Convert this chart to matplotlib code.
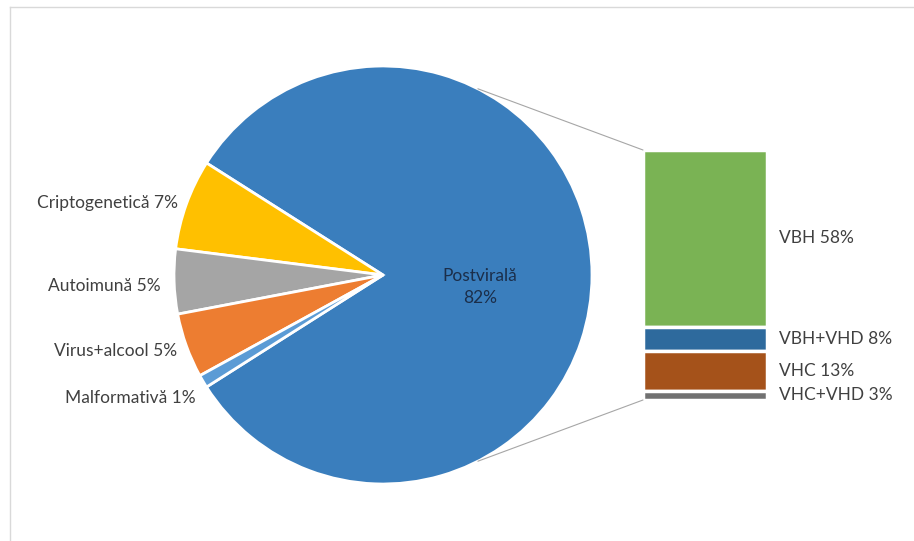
import numpy as np
import matplotlib
matplotlib.use('Agg')
import matplotlib.pyplot as plt
from matplotlib.patches import ConnectionPatch
from matplotlib.lines import Line2D

plt.rcParams['font.family'] = ['Lato', 'DejaVu Sans']

# pie data (Postviral first, then the small slices going counter-clockwise)
pie_labels = ['Postvirală', 'Criptogenetică', 'Autoimună', 'Virus+alcool', 'Malformativă']
pie_values = [82, 7, 5, 5, 1]
pie_colors = ['#3A7EBD', '#FFC000', '#A5A5A5', '#ED7D31', '#5B9BD5']

# breakdown of Postvirală (top of stack first)
bar_labels = ['VBH', 'VBH+VHD', 'VHC', 'VHC+VHD']
bar_values = [58, 8, 13, 3]
bar_colors = ['#7AB354', '#2E6A9D', '#A5521A', '#717171']

W, H = 914, 541
fs = 12.5
fig = plt.figure(figsize=(W / 100, H / 100), dpi=100)
ax = fig.add_axes([0, 0, 1, 1])

rest = sum(pie_values[1:])
start = 180 + rest / sum(pie_values) * 360 / 2
center = (383, H - 275)
radius = 209

wedges, _ = ax.pie(pie_values, colors=pie_colors, startangle=start,
                   counterclock=True, center=center, radius=radius,
                   wedgeprops=dict(edgecolor='white', linewidth=2))

# outside labels for the small slices (Excel-like placement, nudged a bit)
dx = [-2, -7, -3, -2]
dy = [-1, -4, -3, -13]
for w, lab, v, ox, oy in zip(wedges[1:], pie_labels[1:], pie_values[1:], dx, dy):
    mid = np.deg2rad((w.theta1 + w.theta2) / 2)
    x = center[0] + radius * 1.03 * np.cos(mid) + ox
    y = center[1] + radius * 1.03 * np.sin(mid) + oy
    ax.text(x, y, '%s %d%%' % (lab, v), ha='right', va='center',
            fontsize=fs, color='#404040')

ax.text(center[0] + 97, center[1] - 12, '%s\n%d%%' % (pie_labels[0], pie_values[0]),
        ha='center', va='center', fontsize=fs, color='#1B2E4A', linespacing=1.4)

ax.set_xlim(0, W)
ax.set_ylim(0, H)
ax.set_aspect('equal')
ax.axis('off')

# stacked bar
ax2 = fig.add_axes([643 / W, (H - 400) / H, 124 / W, 250 / H])
bottoms = []
b = 0
for v in bar_values[::-1]:
    bottoms.append(b)
    b += v
bottoms = bottoms[::-1]
ax2.bar([0] * len(bar_values), bar_values, bottom=bottoms, width=1,
        color=bar_colors, edgecolor='white', linewidth=2.5, clip_on=False)
for lab, v, bt in zip(bar_labels, bar_values, bottoms):
    ax2.text(0.6, bt + v / 2, '%s %d%%' % (lab, v), va='center', ha='left',
             fontsize=fs, color='#404040')
ax2.set_xlim(-0.5, 0.5)
ax2.set_ylim(0, sum(bar_values))
ax2.axis('off')

# connector lines
ang = np.deg2rad(63)
for sgn, yb in [(1, sum(bar_values)), (-1, 0)]:
    p = (center[0] + radius * np.cos(ang), center[1] + sgn * radius * np.sin(ang))
    con = ConnectionPatch(xyA=p, coordsA=ax.transData, xyB=(-0.5, yb), coordsB=ax2.transData,
                          color='#A6A6A6', linewidth=0.8)
    fig.add_artist(con)

# chart frame (top and left edges visible)
fig.add_artist(Line2D([9.5 / W, 1], [1 - 6.5 / H] * 2, transform=fig.transFigure,
                      color='#D9D9D9', linewidth=1))
fig.add_artist(Line2D([9.5 / W] * 2, [0, 1 - 6.5 / H], transform=fig.transFigure,
                      color='#D9D9D9', linewidth=1))

fig.savefig('out.png', dpi=100)
